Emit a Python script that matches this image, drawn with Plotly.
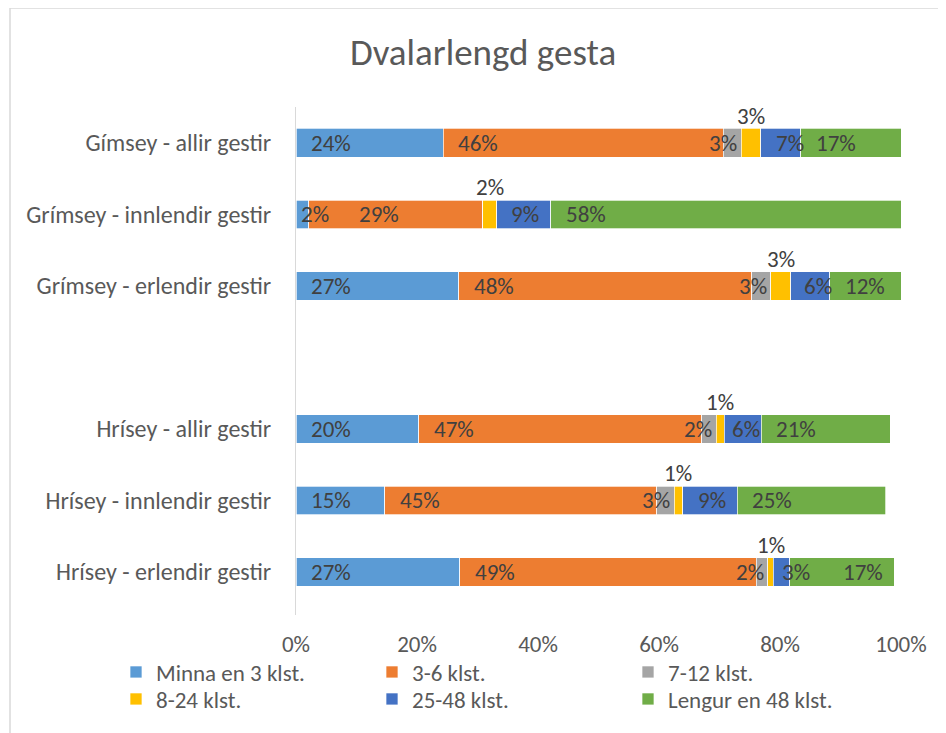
import plotly.graph_objects as go

# data (shares in %)
categories = ["Gímsey - allir gestir", "Grímsey - innlendir gestir", "Grímsey - erlendir gestir",
              "Hrísey - allir gestir", "Hrísey - innlendir gestir", "Hrísey - erlendir gestir"]
cat_order = categories[:3] + [" "] + categories[3:]

series_names = ["Minna en 3 klst.", "3-6 klst.", "7-12 klst.", "8-24 klst.", "25-48 klst.", "Lengur en 48 klst."]
minna_3 = [24.3, 2.1, 26.9, 20.3, 14.7, 27.1]
klst_3_6 = [46.3, 28.8, 48.4, 46.8, 44.9, 49.0]
klst_7_12 = [3.0, 0.0, 3.2, 2.4, 2.9, 1.9]
klst_8_24 = [3.2, 2.3, 3.3, 1.3, 1.4, 0.9]
klst_25_48 = [6.6, 8.9, 6.4, 6.1, 9.0, 2.7]
lengur_48 = [16.6, 57.9, 11.8, 21.3, 24.6, 17.3]
series_vals = [minna_3, klst_3_6, klst_7_12, klst_8_24, klst_25_48, lengur_48]

tick_vals = [0, 20, 40, 60, 80, 100]
tick_text = ["0%", "20%", "40%", "60%", "80%", "100%"]

colors = ["#5B9BD5", "#ED7D31", "#A5A5A5", "#FFC000", "#4472C4", "#70AD47"]
font_fam = "Calibri, Carlito, Lato, sans-serif"
txt_col = "#595959"
lbl_col = "#404040"

# page body has an 8px margin, so work in page pixels and shift
off = 8
W, H = 946 - off, 733 - off
pl, pr, pt, pb = 296 - off, 901 - off, 107 - off, 615 - off

def cx(px):  # page px -> container fraction
    return (px - off) / W

def cy(py):
    return 1 - (py - off) / H

# label nudges (px) where Excel labels were moved by hand
lbl_shift = {(0, 1): 3, (1, 1): 48, (4, 1): 12, (4, 2): 11, (4, 3): 6, (4, 5): 7, (5, 5): 51}

# legend: 3 columns x 2 rows (text left x, row centre y in page px)
leg_pos = [(156, 672), (412, 672), (668, 672), (156, 699), (412, 699), (668, 699)]

fig = go.Figure()
for i, (name, vals) in enumerate(zip(series_names, series_vals)):
    lg = "legend" if i == 0 else f"legend{i + 1}"
    fig.add_trace(go.Bar(
        y=categories, x=vals, name=name, orientation="h",
        marker=dict(color=colors[i], line=dict(color="white", width=0.7)),
        legend=lg, hoverinfo="x+name",
    ))
    lx, ly = leg_pos[i]
    fig.update_layout({lg: dict(orientation="v", xref="container", x=cx(lx - 40), xanchor="left",
                                yref="container", y=cy(ly), yanchor="middle", traceorder="normal",
                                font=dict(family=font_fam, size=23, color=txt_col),
                                bgcolor="rgba(0,0,0,0)", itemclick=False)})

# data labels
annotations = []
base = [0.0] * len(categories)
for i, vals in enumerate(series_vals):
    for j, v in enumerate(vals):
        if v > 0:
            a = dict(xref="x", yref="y", y=categories[j], text=f"{round(v)}%", showarrow=False,
                     font=dict(family=font_fam, size=23, color=lbl_col), yanchor="middle")
            if i == 2:
                a.update(x=base[j] + v, xanchor="right", xshift=-2)
            elif i == 3:
                a.update(x=base[j] + v / 2, xanchor="center", yshift=27)
            else:
                a.update(x=base[j], xanchor="left", xshift=lbl_shift.get((i, j), 13))
            annotations.append(a)
        base[j] += v

fig.update_layout(
    width=W, height=H,
    margin=dict(l=pl, r=W - pr, t=pt, b=H - pb, autoexpand=False),
    paper_bgcolor="white", plot_bgcolor="white",
    barmode="stack", bargap=0.6,
    font=dict(family=font_fam, color=txt_col, size=23),
    title=dict(text="Dvalarlengd gesta", x=cx(483), xref="container", xanchor="center",
               y=cy(52), yref="container", yanchor="middle",
               font=dict(family=font_fam, size=37, color=txt_col)),
    xaxis=dict(range=[0, 100], tickmode="array", tickvals=tick_vals, ticktext=tick_text,
               showgrid=False, zeroline=False, showline=False, ticklabelstandoff=13,
               tickfont=dict(size=23, color=txt_col), automargin=False),
    yaxis=dict(categoryorder="array", categoryarray=cat_order, autorange="reversed",
               showline=True, linecolor="#D9D9D9", linewidth=1, showgrid=False,
               ticks="", ticklabelstandoff=19, tickfont=dict(size=24, color=txt_col),
               automargin=False),
    annotations=annotations,
    showlegend=True,
)

# chart frame
pw, ph = pr - pl, pb - pt
fig.add_shape(type="rect", xref="paper", yref="paper",
              x0=(10 - 296) / pw, x1=(960 - 296) / pw,
              y0=(615 - 745) / ph, y1=(615 - 8) / ph,
              line=dict(color="#D9D9D9", width=1.5), fillcolor="rgba(0,0,0,0)", layer="below")

fig.write_html("out.html")
